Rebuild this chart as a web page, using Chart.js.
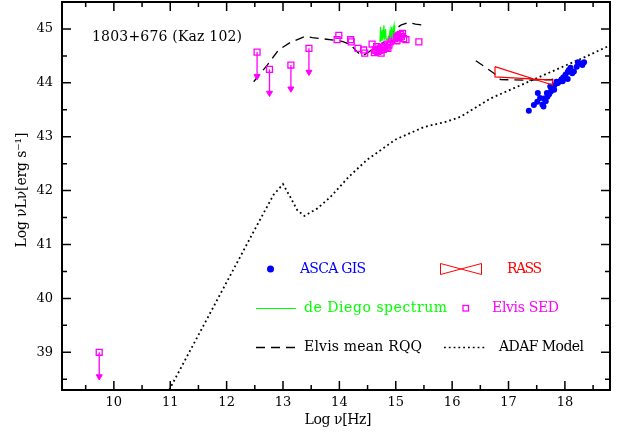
<!DOCTYPE html>
<html>
<head>
<meta charset="utf-8">
<script src="https://cdn.jsdelivr.net/npm/chart.js@4"></script>
<style>
  body { margin: 0; background: #fff; }
  canvas { display: block; }
</style>
</head>
<body>
<canvas id="sedChart" width="621" height="434"></canvas>
<script>
// Log nu [Hz], Log nuLnu [erg/s]

// ASCA GIS points
const ascaNu = [17.36, 17.45, 17.51, 17.52, 17.60, 17.62, 17.56, 17.63, 17.69, 17.72, 17.68, 17.75, 17.74, 17.78, 17.81, 17.81, 17.87, 17.90, 17.93, 17.96, 17.97, 18.01, 18.05, 18.05, 18.07, 18.10, 18.13, 18.16, 18.21, 18.23, 18.28, 18.31, 18.34, 17.66, 17.85];
const ascaL  = [43.48, 43.59, 43.65, 43.81, 43.60, 43.56, 43.72, 43.71, 43.74, 43.79, 43.81, 43.84, 43.93, 43.90, 43.95, 43.87, 43.99, 44.02, 44.05, 44.03, 44.10, 44.15, 44.20, 44.07, 44.24, 44.28, 44.18, 44.21, 44.30, 44.38, 44.36, 44.33, 44.38, 43.66, 44.02];

// RASS bow-tie outline
const rassNu = [16.76, 17.78, 17.78, 16.76, 16.76];
const rassL  = [44.30, 43.96, 44.05, 44.11, 44.30];

// Elvis SED detections
const sedNu = [13.99, 13.96, 14.20, 14.21, 14.33, 14.43, 14.45, 14.58, 15.41,
  14.62, 14.65, 14.68, 14.70, 14.72, 14.75, 14.78, 14.80, 14.83, 14.85, 14.88, 14.90, 14.93, 14.95,
  14.98, 15.00, 15.03, 15.05, 15.08, 15.10, 15.12, 15.14, 14.66, 14.74, 14.86, 15.18, 15.02, 14.64];
const sedL  = [44.88, 44.80, 44.80, 44.76, 44.64, 44.61, 44.55, 44.72, 44.76,
  44.56, 44.60, 44.58, 44.63, 44.60, 44.66, 44.62, 44.68, 44.66, 44.72, 44.70, 44.76, 44.80, 44.84,
  44.82, 44.86, 44.88, 44.84, 44.90, 44.86, 44.92, 44.82, 44.67, 44.55, 44.64, 44.80, 44.78, 44.61];

// Elvis SED upper limits (value and arrow tip)
const limNu  = [9.74, 12.54, 12.76, 13.14, 13.46];
const limL   = [39.00, 44.57, 44.25, 44.33, 44.64];
const limTip = [38.55, 44.12, 43.81, 43.89, 44.20];

// de Diego optical spectrum
const specNu = [14.72, 14.73, 14.74, 14.76, 14.77, 14.79, 14.80, 14.82, 14.83, 14.86, 14.88, 14.90, 14.91, 14.93, 14.94, 14.97, 14.98];
const specL  = [44.76, 45.04, 44.77, 44.98, 44.78, 45.07, 44.80, 45.00, 44.80, 44.82, 44.85, 44.98, 44.84, 45.04, 44.88, 45.07, 44.92];

// Elvis mean RQQ (gap in the EUV)
const rqqNu = [12.48, 12.72, 12.92, 13.13, 13.39, 13.52, 13.93, 14.05, 14.20, 14.30, 14.40, 14.49, 14.61, 14.73, 14.88, 15.00, 15.09, 15.23, 15.35, 15.50,
  null, 16.42, 16.74, 16.86, 17.30, 17.75, 18.00];
const rqqL  = [44.02, 44.33, 44.61, 44.75, 44.86, 44.84, 44.79, 44.77, 44.71, 44.59, 44.50, 44.55, 44.64, 44.70, 44.86, 45.00, 45.07, 45.12, 45.09, 45.07,
  null, 44.41, 44.18, 44.06, 44.05, 44.06, 44.12];

// ADAF model
const adafNu = [10.98, 12.51, 12.83, 13.00, 13.13, 13.25, 13.38, 13.61, 13.84, 14.17, 14.50, 15.00, 15.50, 15.90, 16.15, 16.68, 18.40, 18.85];
const adafL  = [38.30, 41.30, 41.92, 42.12, 41.88, 41.64, 41.53, 41.67, 41.88, 42.26, 42.58, 42.95, 43.18, 43.28, 43.37, 43.71, 44.50, 44.72];

const FONT = '"DejaVu Serif", serif';

function pts(xs, ys) {
  return xs.map((x, i) => (x === null ? { x: null, y: null } : { x: x, y: ys[i] }));
}

// arrow shafts as separated segments
const shaftPts = [];
limNu.forEach((nu, i) => {
  shaftPts.push({ x: nu, y: limL[i] }, { x: nu, y: limTip[i] }, { x: null, y: null });
});

// text helper: stretch letter spacing so text spans the given width
function fitText(ctx, text, x, y, width, color, align) {
  ctx.save();
  ctx.fillStyle = color;
  ctx.textBaseline = 'middle';
  ctx.letterSpacing = '0px';
  const w = ctx.measureText(text).width;
  const sp = (width - w) / Math.max(text.length - 1, 1);
  ctx.letterSpacing = sp.toFixed(2) + 'px';
  const x0 = align === 'center' ? x - width / 2 : x;
  ctx.textAlign = 'left';
  ctx.fillText(text, x0, y);
  ctx.restore();
}

const framePlugin = {
  id: 'frame',
  afterDraw(chart) {
    const ctx = chart.ctx;
    const a = chart.chartArea;
    const xs = chart.scales.x, ys = chart.scales.y;
    ctx.save();
    ctx.strokeStyle = '#000';
    ctx.lineWidth = 1.5;
    // ticks on all four sides
    for (let v = 9.5; v <= 18.8; v += 0.5) {
      const px = xs.getPixelForValue(v);
      const len = Number.isInteger(v) ? 9 : 5;
      ctx.beginPath();
      ctx.moveTo(px, a.bottom); ctx.lineTo(px, a.bottom - len);
      ctx.moveTo(px, a.top); ctx.lineTo(px, a.top + len);
      ctx.stroke();
    }
    for (let v = 38.5; v <= 45.5; v += 0.5) {
      const py = ys.getPixelForValue(v);
      const len = Number.isInteger(v) ? 9 : 5;
      ctx.beginPath();
      ctx.moveTo(a.left, py); ctx.lineTo(a.left + len, py);
      ctx.moveTo(a.right, py); ctx.lineTo(a.right - len, py);
      ctx.stroke();
    }
    ctx.lineWidth = 2;
    ctx.strokeRect(a.left, a.top, a.right - a.left, a.bottom - a.top);

    // labels
    ctx.font = '14px ' + FONT;
    fitText(ctx, '1803+676 (Kaz 102)', 92, 37, 150, '#000');
    fitText(ctx, 'Log \u03bd[Hz]', 338, 420, 67, '#000', 'center');
    ctx.save();
    ctx.translate(22, 190);
    ctx.rotate(-Math.PI / 2);
    fitText(ctx, 'Log \u03bdL\u03bd[erg s\u207b\u00b9]', 0, 0, 115, '#000', 'center');
    ctx.restore();

    // legend
    ctx.fillStyle = '#0000ff';
    ctx.beginPath(); ctx.arc(270.5, 269, 3.5, 0, Math.PI * 2); ctx.fill();
    fitText(ctx, 'ASCA GIS', 300, 269, 66, '#0000ff');

    ctx.strokeStyle = '#ff0000'; ctx.lineWidth = 1;
    ctx.beginPath();
    ctx.moveTo(440.5, 263.5); ctx.lineTo(481.5, 274.5); ctx.lineTo(481.5, 263.5);
    ctx.lineTo(440.5, 274.5); ctx.closePath(); ctx.stroke();
    fitText(ctx, 'RASS', 507, 269, 35, '#ff0000');

    ctx.strokeStyle = '#00ff00'; ctx.lineWidth = 1;
    ctx.beginPath(); ctx.moveTo(256, 308.5); ctx.lineTo(296, 308.5); ctx.stroke();
    fitText(ctx, 'de Diego spectrum', 304, 308, 143, '#00ff00');

    ctx.strokeStyle = '#ff00ff'; ctx.lineWidth = 1.3;
    ctx.strokeRect(463, 305.5, 5.5, 5.5);
    fitText(ctx, 'Elvis SED', 492, 308, 67, '#ff00ff');

    ctx.strokeStyle = '#000'; ctx.lineWidth = 1.3;
    ctx.setLineDash([9, 6]);
    ctx.beginPath(); ctx.moveTo(256, 347.5); ctx.lineTo(296, 347.5); ctx.stroke();
    ctx.setLineDash([1.8, 3]);
    ctx.beginPath(); ctx.moveTo(444, 347.5); ctx.lineTo(485, 347.5); ctx.stroke();
    ctx.setLineDash([]);
    fitText(ctx, 'Elvis mean RQQ', 304, 347, 118, '#000');
    fitText(ctx, 'ADAF Model', 499, 347, 85, '#000');
    ctx.restore();
  }
};

new Chart(document.getElementById('sedChart').getContext('2d'), {
  type: 'scatter',
  data: {
    datasets: [
      {
        label: 'ADAF Model',
        data: pts(adafNu, adafL),
        showLine: true, pointRadius: 0,
        borderColor: '#000', borderWidth: 1.8, borderDash: [1.8, 3],
        order: 7
      },
      {
        label: 'Elvis mean RQQ',
        data: pts(rqqNu, rqqL),
        showLine: true, spanGaps: false, pointRadius: 0,
        borderColor: '#000', borderWidth: 1.3, borderDash: [9, 6],
        order: 6
      },
      {
        label: 'de Diego spectrum',
        data: pts(specNu, specL),
        showLine: true, pointRadius: 0,
        borderColor: '#00ff00', borderWidth: 1.2,
        order: 2
      },
      {
        label: 'Elvis SED',
        data: pts(sedNu, sedL).concat(pts(limNu, limL)),
        pointStyle: 'rect', pointRadius: 4.2,
        borderColor: '#ff00ff', borderWidth: 1.3, backgroundColor: 'rgba(0,0,0,0)',
        order: 4
      },
      {
        label: 'limit shafts',
        data: shaftPts,
        showLine: true, spanGaps: false, pointRadius: 0,
        borderColor: '#ff00ff', borderWidth: 1.3,
        order: 5
      },
      {
        label: 'limit heads',
        data: pts(limNu, limTip),
        pointStyle: 'triangle', rotation: 180, pointRadius: 3.5,
        borderColor: '#ff00ff', backgroundColor: '#ff00ff', borderWidth: 1,
        order: 5
      },
      {
        label: 'ASCA GIS',
        data: pts(ascaNu, ascaL),
        pointStyle: 'circle', pointRadius: 3,
        borderColor: '#0000ff', backgroundColor: '#0000ff', borderWidth: 0,
        order: 3
      },
      {
        label: 'RASS',
        data: pts(rassNu, rassL),
        showLine: true, pointRadius: 0, tension: 0,
        borderColor: '#ff0000', borderWidth: 1.2,
        order: 1
      }
    ]
  },
  options: {
    responsive: false,
    animation: false,
    events: [],
    layout: { autoPadding: false, padding: { top: 2, right: 11, left: 0, bottom: 0 } },
    plugins: { legend: { display: false }, tooltip: { enabled: false } },
    scales: {
      x: {
        type: 'linear', min: 9.08, max: 18.8,
        grid: { display: false, drawTicks: false },
        border: { display: false },
        ticks: { stepSize: 1, includeBounds: false, padding: 5, color: '#000', font: { family: FONT, size: 13 } },
        afterFit(scale) {
          scale.height = 44;
          scale.paddingLeft = 0; scale.paddingRight = 0;
        }
      },
      y: {
        type: 'linear', min: 38.3, max: 45.5,
        grid: { display: false, drawTicks: false },
        border: { display: false },
        ticks: { stepSize: 1, includeBounds: false, padding: 9, color: '#000', font: { family: FONT, size: 13 } },
        afterFit(scale) {
          scale.width = 62;
          scale.paddingTop = 0; scale.paddingBottom = 0;
        }
      }
    }
  },
  plugins: [framePlugin]
});
</script>
</body>
</html>
